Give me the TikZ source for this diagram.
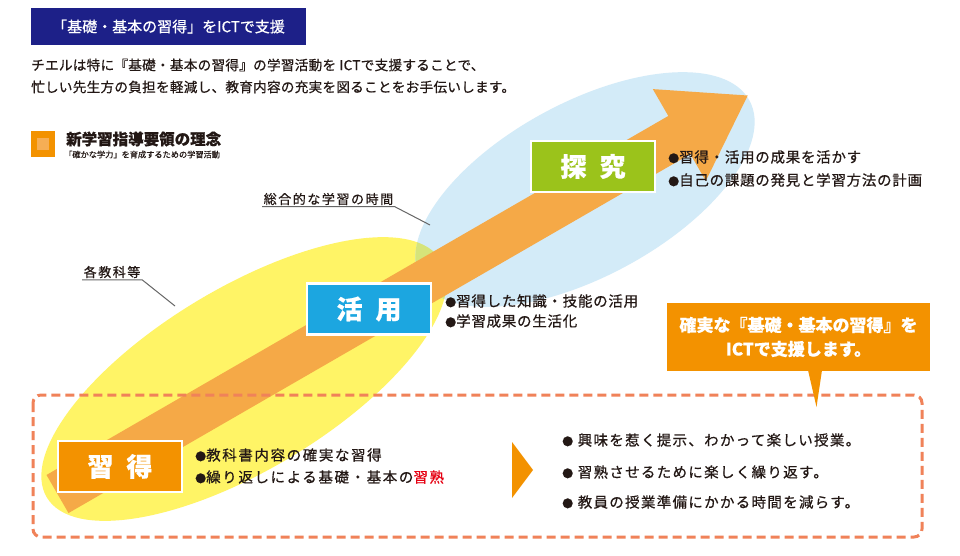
\documentclass[tikz,border=0pt]{standalone}
\usepackage{fontspec}
\setmainfont{Noto Sans CJK JP}[FakeBold=0.6]
\newfontfamily\jpsp[LetterSpace=12,FakeBold=0.6]{Noto Sans CJK JP}
\newfontfamily\jpspb[LetterSpace=5,FakeBold=0.6]{Noto Sans CJK JP}
\newfontfamily\jpspc[LetterSpace=11,FakeBold=0.6]{Noto Sans CJK JP}
\newfontfamily\jpspr[LetterSpace=9,FakeBold=0.6]{Noto Sans CJK JP}
\newfontfamily\jpspp[LetterSpace=2,FakeBold=0.6]{Noto Sans CJK JP}
\usetikzlibrary{calc}
\definecolor{navy}{HTML}{1D2088}
\definecolor{yel}{HTML}{FFF466}
\definecolor{lblue}{HTML}{D3EBF8}
\definecolor{ovl}{HTML}{D6E47A}
\definecolor{arrowC}{HTML}{F5A947}
\definecolor{orgC}{HTML}{F39200}
\definecolor{orgL}{HTML}{F6AE55}
\definecolor{blueC}{HTML}{1CA6E0}
\definecolor{greenC}{HTML}{9BC31B}
\definecolor{dashC}{HTML}{F08259}
\definecolor{ink}{HTML}{231815}
\definecolor{redC}{HTML}{E60012}
\definecolor{leadC}{HTML}{666666}
\newcommand\myfs[1]{\fontsize{#1}{#1}\selectfont}
\newcommand\mybul{{\fontsize{11}{11}\selectfont ●}}
\begin{document}
\begin{tikzpicture}[x=1pt,y=-1pt,
  txt/.style={inner sep=0pt, anchor=west, text=ink},
  lbox/.style={draw=white, line width=2.5pt, minimum width=124, minimum height=51,
     inner sep=0pt, text=white, font=\myfs{26}\bfseries},
  leader/.style={draw=leadC, line width=1pt},
  lab/.style={inner sep=1.5pt, anchor=west, text=ink, font=\jpsp\myfs{13}}]
\useasboundingbox (0,0) rectangle (960,555);
\fill[white] (0,0) rectangle (960,555);

% ellipses
\fill[yel, rotate around={31:(244,379)}] (244,379) ellipse (230 and 91);
\fill[lblue, rotate around={28.4:(585,189.5)}] (585,189.5) ellipse (187 and 87);
\begin{scope}
  \clip[rotate around={31:(244,379)}] (244,379) ellipse (230 and 91);
  \fill[ovl, rotate around={28.4:(585,189.5)}] (585,189.5) ellipse (187 and 87);
\end{scope}

% big arrow
\fill[arrowC, shift={(57.5,494)}, rotate=30]
  (0,-22) -- (718,-22) -- (718,-53) -- (797,0) -- (718,53) -- (718,22) -- (0,22) -- cycle;

% dashed frame
\draw[dashC, line width=3pt, dash pattern=on 9pt off 5pt, rounded corners=8pt]
  (33,395) rectangle (922,537);

% callout
\node[fill=orgC, minimum width=263, minimum height=68, inner sep=0pt, text=white,
      align=center, font=\myfs{17}\bfseries] (callout) at (798.5,337)
  {確実な『基礎・基本の習得』を\\[7pt]ICTで支援します。};
\fill[orgC] ($(callout.south)+(9.5,-1)$) -- (816.5,407) coordinate (ctip)
  -- ($(callout.south)+(23.5,-1)$) -- cycle;

% header
\node[fill=navy, minimum width=275, minimum height=37, inner sep=0pt, text=white,
      font=\myfs{15}] (head) at (168.5,26.5) {「基礎・基本の習得」をICTで支援};
\node[txt, font=\jpspp\myfs{13.6}] (p1) at (31,65)
  {チエルは特に『基礎・基本の習得』の学習活動を ICTで支援することで、};
\node[txt, font=\jpspp\myfs{13.6}] (p2) at (31,87)
  {忙しい先生方の負担を軽減し、教育内容の充実を図ることをお手伝いします。};

% legend
\node[fill=orgC, minimum width=24, minimum height=26, inner sep=0pt] (legsq) at (43,144) {};
\node[fill=orgL, minimum size=12, inner sep=0pt] (legin) at (legsq) {};
\node[txt, font=\myfs{15.5}\bfseries] (legt) at (66,139) {新学習指導要領の理念};
\node[txt, font=\myfs{8.2}] (legs) at (64,154.5) {「確かな学力」を育成するための学習活動};

% leader labels
\node[lab] (kaku) at (82,272) {各教科等};
\coordinate (kakuE) at (175,306);
\draw[leader] (kaku.south west) -- (kaku.south east) -- (kakuE);
\node[lab] (sogo) at (262,199) {総合的な学習の時間};
\coordinate (sogoE) at (430,225);
\draw[leader] (sogo.south west) -- (sogo.south east) -- (sogoE);

% stage boxes
\node[lbox, fill=orgC] (shutoku) at (120,466.5) {習\hspace{.5em}得};
\node[lbox, fill=blueC] (katsuyo) at (369,309) {活\hspace{.5em}用};
\node[lbox, fill=greenC] (tankyu) at (593,166.5) {探\hspace{.5em}究};

% stage bullets
\node[txt, font=\jpspb\myfs{14.5}] (tk1) at (668,157) {\mybul 習得・活用の成果を活かす};
\node[txt, font=\jpspb\myfs{14.5}] (tk2) at (668,180) {\mybul 自己の課題の発見と学習方法の計画};
\node[txt, font=\jpspb\myfs{14.5}] (ky1) at (445,301) {\mybul 習得した知識・技能の活用};
\node[txt, font=\jpspb\myfs{14.5}] (ky2) at (445,321) {\mybul 学習成果の生活化};
\node[txt, font=\jpspc\myfs{14.5}] (st1) at (195,455) {\mybul 教科書内容の確実な習得};
\node[txt, font=\jpspc\myfs{14.5}] (st2) at (195,477) {\mybul 繰り返しによる基礎・基本の\textcolor{redC}{習熟}};

% small triangle
\fill[orgC] (512,442) -- (533,470) -- (512,498) -- cycle;
\coordinate (tri) at (522,470);

% right bullets
\node[txt, font=\jpspr\myfs{14.5}] (r1) at (562,440) {\mybul\ 興味を惹く提示、わかって楽しい授業。};
\node[txt, font=\jpspr\myfs{14.5}] (r2) at (562,472) {\mybul\ 習熟させるために楽しく繰り返す。};
\node[txt, font=\jpspr\myfs{14.5}] (r3) at (562,502) {\mybul\ 教員の授業準備にかかる時間を減らす。};
\end{tikzpicture}
\end{document}
